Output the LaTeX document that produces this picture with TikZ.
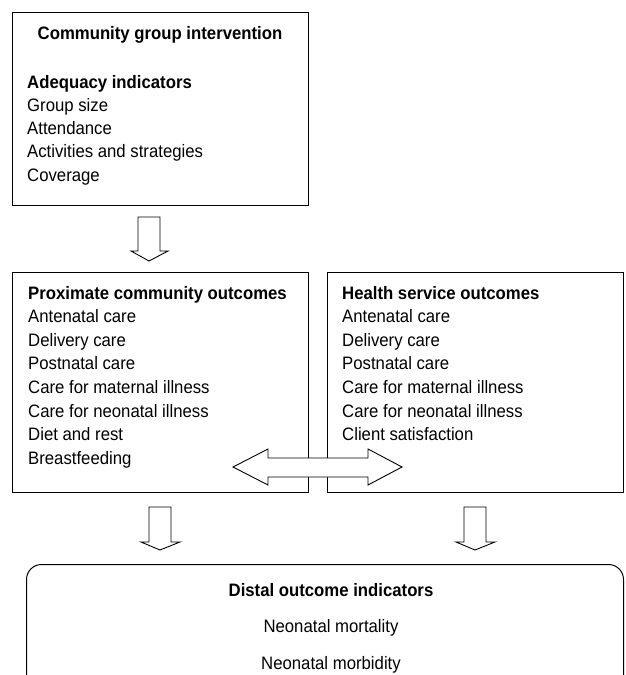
\documentclass[tikz,border=0pt]{standalone}
\usepackage{fontspec}
\setmainfont[FakeStretch=0.93]{Liberation Sans}
\begin{document}
\begin{tikzpicture}[x=1pt, y=-1pt,
  box/.style={draw, line width=1pt, inner sep=0pt, anchor=north west},
  txt/.style={anchor=base west, inner sep=0pt, font=\fontsize{18}{20}\selectfont},
  hdr/.style={txt, font=\fontsize{18}{20}\selectfont\bfseries},
  ctr/.style={txt, anchor=base},
  blockarrow/.style={draw, fill=white, line width=0.9pt, line join=miter}]
\useasboundingbox (0,0) rectangle (625,675);
\path[clip] (0,0) rectangle (625,675);

% boxes
\node[box, minimum width=296, minimum height=193] (intervention) at (12,12) {};
\node[box, minimum width=296, minimum height=220] (proximate) at (12,272) {};
\node[box, minimum width=296, minimum height=220] (health) at (327,272) {};
\node[box, rounded corners=15, minimum width=597, minimum height=160] (distal) at (26,564) {};

% community group intervention
\node[hdr, anchor=base] (t0) at (160,39) {Community group intervention};
\node[hdr] (t1) at (27,88) {Adequacy indicators};
\foreach \s [count=\i] in {Group size, Attendance, Activities and strategies, Coverage}
  \node[txt] (ta\i) at (27,{88+23.3*\i}) {\s};

% proximate community outcomes
\node[hdr] (p0) at (28,299) {Proximate community outcomes};
\foreach \s [count=\i] in {Antenatal care, Delivery care, Postnatal care,
    Care for maternal illness, Care for neonatal illness, Diet and rest, Breastfeeding}
  \node[txt] (p\i) at (28,{299+23.6*\i}) {\s};

% health service outcomes
\node[hdr] (h0) at (342,299) {Health service outcomes};
\foreach \s [count=\i] in {Antenatal care, Delivery care, Postnatal care,
    Care for maternal illness, Care for neonatal illness, Client satisfaction}
  \node[txt] (h\i) at (342,{299+23.6*\i}) {\s};

% distal outcomes
\node[hdr, anchor=base] (d0) at (331,596) {Distal outcome indicators};
\node[ctr] (d1) at (331,632) {Neonatal mortality};
\node[ctr] (d2) at (331,669) {Neonatal morbidity};

% block arrows
\draw[blockarrow] (138,217) -- (160,217) -- (160,251) -- (168,251) -- (149,261)
  -- (131,251) -- (138,251) -- cycle;
\draw[blockarrow] (149,507) -- (171,507) -- (171,542) -- (180,542) -- (160,550)
  -- (141,542) -- (149,542) -- cycle;
\draw[blockarrow] (464,507) -- (486,507) -- (486,542) -- (495,542) -- (475,550)
  -- (456,542) -- (464,542) -- cycle;
\draw[blockarrow] (233,467) -- (268,449) -- (268,458) -- (368,458) -- (368,449)
  -- (402,467) -- (368,485) -- (368,477) -- (268,477) -- (268,485) -- cycle;
\end{tikzpicture}
\end{document}
